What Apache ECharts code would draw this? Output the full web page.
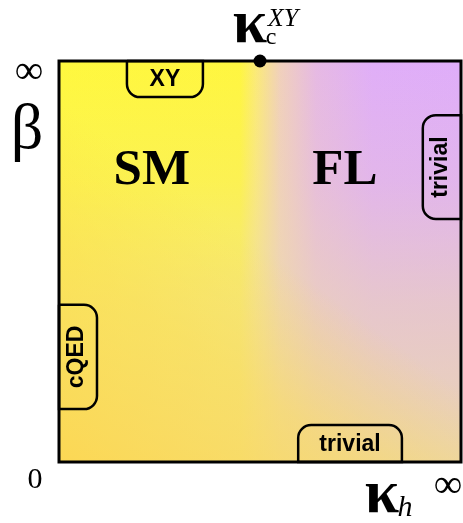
<!DOCTYPE html>
<html>
<head>
<meta charset="utf-8">
<script src="https://cdn.jsdelivr.net/npm/echarts@6/dist/echarts.min.js"></script>
<style>
html,body{margin:0;padding:0;background:#fff;}
#chart{width:463px;height:523px;}
</style>
</head>
<body>
<div id="chart"></div>
<script>
// ---- data (plot coordinates: x = kappa_h from 0 to infinity, y = beta from 0 to infinity, both mapped to [0,1]) ----
const regionNames = ['SM', 'FL'];
const regionX = [0.231, 0.711];
const regionY = [0.726, 0.726];

const boxLabels = ['XY', 'trivial', 'cQED', 'trivial'];
const boxX0 = [0.169, 0.595, 0.0, 0.905];
const boxX1 = [0.358, 0.853, 0.0945, 1.0];
const boxY0 = [0.910, 0.0, 0.132, 0.606];
const boxY1 = [1.0, 0.092, 0.392, 0.865];
const boxOpenSide = ['top', 'bottom', 'left', 'right'];

const criticalX = [0.5];
const criticalY = [1.0];
const criticalLabel = ['κ', 'c', 'XY'];

const xTickValues = [0, 1];
const xTickLabels = ['0', '∞'];
const yTickValues = [1];
const yTickLabels = ['∞'];
const xAxisName = ['κ', 'h'];
const yAxisName = 'β';

// ---- styling ----
const topStops = [
  [0, '#FFF83E'], [0.45, '#FFF640'], [0.49, '#FBEA78'], [0.55, '#F0D0BC'],
  [0.64, '#E6B9E4'], [0.78, '#E0AEF8'], [1, '#DFADFA']
];
const fadeStops = [
  [0, 'rgba(236,218,170,0)'], [0.3, 'rgba(236,218,170,0.18)'],
  [0.6, 'rgba(236,218,170,0.55)'], [1, 'rgba(236,218,170,0.88)']
];
const warmStops = [
  [0, 'rgba(255,214,66,0.8)'], [0.5, 'rgba(255,220,66,0.45)'], [0.85, 'rgba(255,220,66,0)']
];
function grad(x1, y1, x2, y2, stops) {
  return new echarts.graphic.LinearGradient(x1, y1, x2, y2,
    stops.map(s => ({offset: s[0], color: s[1]})));
}

const chart = echarts.init(document.getElementById('chart'), null, {renderer: 'canvas'});
const SERIF = '"Liberation Serif","Times New Roman",serif';
const SANS = '"Liberation Sans",Arial,sans-serif';

const boxData = boxLabels.map((l, i) => [boxX0[i], boxX1[i], boxY0[i], boxY1[i], l, boxOpenSide[i]]);
const R = 13;
const radii = {top: [0, 0, R, R], bottom: [R, R, 0, 0], left: [0, R, R, 0], right: [R, 0, 0, R]};

const option = {
  animation: false,
  backgroundColor: '#ffffff',
  grid: {left: 59, top: 61, width: 402, height: 401},
  xAxis: {type: 'value', min: 0, max: 1, interval: 1, show: false},
  yAxis: {type: 'value', min: 0, max: 1, interval: 1, show: false},
  series: [
    {
      type: 'custom', z: 1, silent: true, clip: false,
      data: [[0, 1, 0, 1]],
      renderItem(params, api) {
        const a = api.coord([api.value(0), api.value(3)]);
        const b = api.coord([api.value(1), api.value(2)]);
        const shape = {x: a[0], y: a[1], width: b[0] - a[0], height: b[1] - a[1]};
        return {type: 'group', children: [
          {type: 'rect', shape, style: {fill: grad(0, 0, 1, 0, topStops)}},
          {type: 'rect', shape, style: {fill: grad(0, 0, 0, 1, fadeStops)}},
          {type: 'rect', shape, style: {fill: grad(0, 1, 0.5, 0.3, warmStops)}},
          {type: 'rect', shape, style: {fill: 'none', stroke: '#000', lineWidth: 3}}
        ]};
      }
    },
    {
      type: 'custom', z: 3, silent: true, clip: false,
      data: boxData,
      renderItem(params, api) {
        const d = boxData[params.dataIndex];
        const a = api.coord([d[0], d[3]]);
        const b = api.coord([d[1], d[2]]);
        const vertical = d[5] === 'left' || d[5] === 'right';
        return {type: 'group', children: [
          {type: 'rect', shape: {x: a[0], y: a[1], width: b[0] - a[0], height: b[1] - a[1], r: radii[d[5]]},
           style: {fill: 'none', stroke: '#000', lineWidth: 2.5}},
          {type: 'text', x: (a[0] + b[0]) / 2 + (vertical ? -1 : 0), y: (a[1] + b[1]) / 2 + (vertical ? 0 : 1),
           rotation: vertical ? Math.PI / 2 : 0,
           style: {text: d[4], font: 'bold 23px ' + SANS, fill: '#000', align: 'center', verticalAlign: 'middle'}}
        ]};
      }
    },
    {
      type: 'scatter', z: 4, silent: true, clip: false,
      symbolSize: 0,
      itemStyle: {opacity: 1},
      data: regionNames.map((n, i) => ({value: [regionX[i], regionY[i]], name: n})),
      label: {show: true, position: 'inside', formatter: p => p.name,
              fontFamily: SERIF, fontSize: 51, fontWeight: 'bold', color: '#000'}
    },
    {
      type: 'scatter', z: 5, silent: true, clip: false,
      symbol: 'circle', symbolSize: 13,
      itemStyle: {color: '#000', opacity: 1},
      data: criticalX.map((x, i) => [x, criticalY[i]])
    }
  ]
};
chart.setOption(option);

// axis names, tick labels and the critical-point label, anchored to data coordinates
const px = v => chart.convertToPixel({gridIndex: 0}, v);
const g = [];
function txt(p, dx, dy, text, font) {
  g.push({type: 'text', x: p[0] + dx, y: p[1] + dy, silent: true,
          style: {text, font, fill: '#000', align: 'center', verticalAlign: 'middle'}});
}
// tick labels
const tickOffsets = [[-24, 18], [-13, 24]];
xTickValues.forEach((v, i) => txt(px([v, 0]), tickOffsets[i][0], tickOffsets[i][1], xTickLabels[i],
  (xTickLabels[i] === '0' ? '30px ' : '40px ') + SERIF));
yTickValues.forEach((v, i) => txt(px([0, v]), -30, 11, yTickLabels[i], '40px ' + SERIF));
// axis names
txt(px([0, 1]), -32, 70, yAxisName, '64px ' + SERIF);
const corner = px([1, 0]);
txt(corner, -79, 34, xAxisName[0], 'bold 62px ' + SERIF);
txt(corner, -56, 46, xAxisName[1], 'italic 30px ' + SERIF);
// critical point label
const cp = px([criticalX[0], criticalY[0]]);
txt(cp, -10, -35, criticalLabel[0], 'bold 62px ' + SERIF);
txt(cp, 11, -23, criticalLabel[1], '24px ' + SERIF);
txt(cp, 23, -42, criticalLabel[2], 'italic 26px ' + SERIF);
chart.setOption({graphic: g});
</script>
</body>
</html>
